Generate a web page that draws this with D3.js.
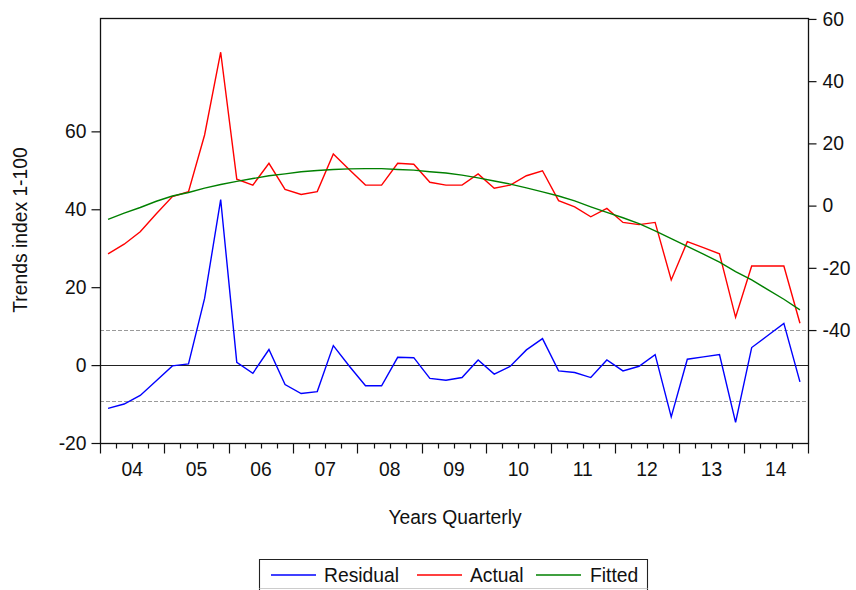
<!DOCTYPE html>
<html>
<head>
<meta charset="utf-8">
<script src="https://cdn.jsdelivr.net/npm/d3@7"></script>
<style>
  html, body { margin: 0; padding: 0; background: #fff; }
  svg { display: block; }
  text { font-family: "Liberation Sans", Arial, sans-serif; fill: #111; }
</style>
</head>
<body>
<svg id="chart" width="856" height="590"></svg>
<script>
// Quarterly periods 2004Q1 .. 2014Q4
const years = ["04", "05", "06", "07", "08", "09", "10", "11", "12", "13", "14"];
const quarters = years.flatMap(y => ["Q1", "Q2", "Q3", "Q4"].map(q => y + q));

// Actual trends index (right axis)
const actual = [
  -15.5, -12.4, -8.4, -2.6,
  2.9, 4.5, 22.7, 49.3,
  8.5, 6.6, 13.6, 5.2,
  3.6, 4.5, 16.6, 11.5,
  6.6, 6.6, 13.6, 13.3,
  7.5, 6.6, 6.6, 10.2,
  5.6, 6.6, 9.6, 11.2,
  1.6, -0.4, -3.6, -0.9,
  -5.4, -6.1, -5.4, -23.9,
  -11.6, -13.5, -15.5, -35.9,
  -19.4, -19.4, -19.4, -37.8
];

// Fitted quadratic trend (right axis)
const fitted = [
  -4.4, -2.4, -0.6, 1.4,
  3.1, 4.2, 5.6, 6.8,
  7.8, 8.7, 9.6, 10.2,
  10.9, 11.3, 11.6, 11.8,
  11.9, 11.9, 11.6, 11.4,
  10.9, 10.5, 9.8, 8.9,
  7.9, 6.9, 5.7, 4.4,
  3.1, 1.5, -0.4, -2.2,
  -3.9, -5.8, -8.1, -10.6,
  -13.1, -15.6, -18.2, -21.2,
  -23.9, -27.0, -30.1, -33.5
];

// Residuals (left axis)
const residual = [
  -11.1, -10.0, -7.8, -4.0,
  -0.2, 0.3, 17.1, 42.5,
  0.7, -2.1, 4.0, -5.0,
  -7.3, -6.8, 5.0, -0.3,
  -5.3, -5.3, 2.0, 1.9,
  -3.4, -3.9, -3.2, 1.3,
  -2.3, -0.3, 3.9, 6.8,
  -1.5, -1.9, -3.2, 1.3,
  -1.5, -0.3, 2.7, -13.3,
  1.5, 2.1, 2.7, -14.7,
  4.5, 7.6, 10.7, -4.3
];

// Residual standard error band
const residualSE = 9.1;

const leftTicks = [-20, 0, 20, 40, 60];
const rightTicks = [-40, -20, 0, 20, 40, 60];

const svg = d3.select("#chart");
const plot = { left: 100, right: 808, top: 18, bottom: 443 };
const fontSize = 19.3;

const x = d3.scaleBand().domain(quarters).range([plot.left, plot.right]).padding(0);
const xc = q => x(q) + x.bandwidth() / 2;
const yLeft = d3.scaleLinear().domain([-20, 89.1]).range([plot.bottom, plot.top]);
const yRight = d3.scaleLinear().domain([-76.3, 60.3]).range([plot.bottom, plot.top]);

// residual SE bands and zero line
[residualSE, -residualSE].forEach(v => {
  svg.append("line")
    .attr("x1", plot.left).attr("x2", plot.right)
    .attr("y1", Math.round(yLeft(v)) + 0.5).attr("y2", Math.round(yLeft(v)) + 0.5)
    .attr("stroke", "#9a9a9a").attr("stroke-width", 1.1)
    .attr("stroke-dasharray", "4,2");
});
svg.append("line")
  .attr("x1", plot.left).attr("x2", plot.right)
  .attr("y1", Math.round(yLeft(0)) + 0.5).attr("y2", Math.round(yLeft(0)) + 0.5)
  .attr("stroke", "#222").attr("stroke-width", 1.2);

// series lines
const lineOn = (scale) => d3.line().x((d, i) => xc(quarters[i])).y(d => scale(d));
svg.append("path").datum(residual)
  .attr("d", lineOn(yLeft)).attr("fill", "none")
  .attr("stroke", "#0000ff").attr("stroke-width", 1.4);
svg.append("path").datum(actual)
  .attr("d", lineOn(yRight)).attr("fill", "none")
  .attr("stroke", "#ff0000").attr("stroke-width", 1.4);
svg.append("path").datum(fitted)
  .attr("d", lineOn(yRight)).attr("fill", "none")
  .attr("stroke", "#008000").attr("stroke-width", 1.4);

// frame
svg.append("rect")
  .attr("x", plot.left + 0.5).attr("y", plot.top + 0.5)
  .attr("width", plot.right - plot.left).attr("height", plot.bottom - plot.top)
  .attr("fill", "none").attr("stroke", "#111").attr("stroke-width", 1.3);

// left axis
const gL = svg.append("g").attr("transform", `translate(${plot.left + 0.5},0)`)
  .call(d3.axisLeft(yLeft).tickValues(leftTicks).tickSize(9).tickPadding(5).tickFormat(d3.format("d")));
// right axis
const gR = svg.append("g").attr("transform", `translate(${plot.right + 0.5},0)`)
  .call(d3.axisRight(yRight).tickValues(rightTicks).tickSize(8).tickPadding(6).tickFormat(d3.format("d")));

[gL, gR].forEach(g => {
  g.select(".domain").remove();
  g.selectAll(".tick line").attr("stroke", "#111").attr("stroke-width", 1.2);
  g.selectAll(".tick text")
    .style("font-family", "'Liberation Sans', Arial, sans-serif")
    .style("font-size", fontSize + "px").attr("fill", "#111")
    .text(d => d < 0 ? "-" + Math.abs(d) : d);
});

// x axis: long ticks at year boundaries, short ticks at quarters
const gX = svg.append("g").attr("transform", `translate(0,${plot.bottom + 0.5})`);
quarters.forEach((q, i) => {
  const major = i % 4 === 0;
  const xp = Math.round(x(q)) + 0.5;
  gX.append("line").attr("x1", xp).attr("x2", xp)
    .attr("y1", 0).attr("y2", major ? 10 : 5)
    .attr("stroke", "#111").attr("stroke-width", 1.2);
});
gX.append("line").attr("x1", plot.right + 0.5).attr("x2", plot.right + 0.5)
  .attr("y1", 0).attr("y2", 10).attr("stroke", "#111").attr("stroke-width", 1.2);
years.forEach(y => {
  const x0 = x(y + "Q1"), x1 = x(y + "Q4") + x.bandwidth();
  gX.append("text").attr("x", (x0 + x1) / 2).attr("y", 32)
    .attr("text-anchor", "middle").style("font-size", fontSize + "px").text(y);
});

// axis titles
svg.append("text")
  .attr("x", (plot.left + plot.right) / 2 + 1).attr("y", 524)
  .attr("text-anchor", "middle").style("font-size", fontSize + "px")
  .text("Years Quarterly");
svg.append("text")
  .attr("transform", "translate(27,230) rotate(-90)")
  .attr("text-anchor", "middle").style("font-size", fontSize + "px")
  .text("Trends index 1-100");

// legend
const legend = svg.append("g");
legend.append("path")
  .attr("d", "M259.5,590 V559.5 H647.5 V590")
  .attr("fill", "none").attr("stroke", "#222").attr("stroke-width", 1.1);
legend.append("line").attr("x1", 259.5).attr("x2", 647.5).attr("y1", 588.5).attr("y2", 588.5)
  .attr("stroke", "#ccc").attr("stroke-width", 1);
const items = [
  { name: "Residual", color: "#0000ff", x0: 271, tx: 324 },
  { name: "Actual", color: "#ff0000", x0: 417, tx: 470 },
  { name: "Fitted", color: "#008000", x0: 536, tx: 590 }
];
items.forEach(it => {
  legend.append("line").attr("x1", it.x0).attr("x2", it.x0 + 45)
    .attr("y1", 575).attr("y2", 575)
    .attr("stroke", it.color).attr("stroke-width", 1.5);
  legend.append("text").attr("x", it.tx).attr("y", 582)
    .style("font-size", fontSize + "px").text(it.name);
});
</script>
</body>
</html>
